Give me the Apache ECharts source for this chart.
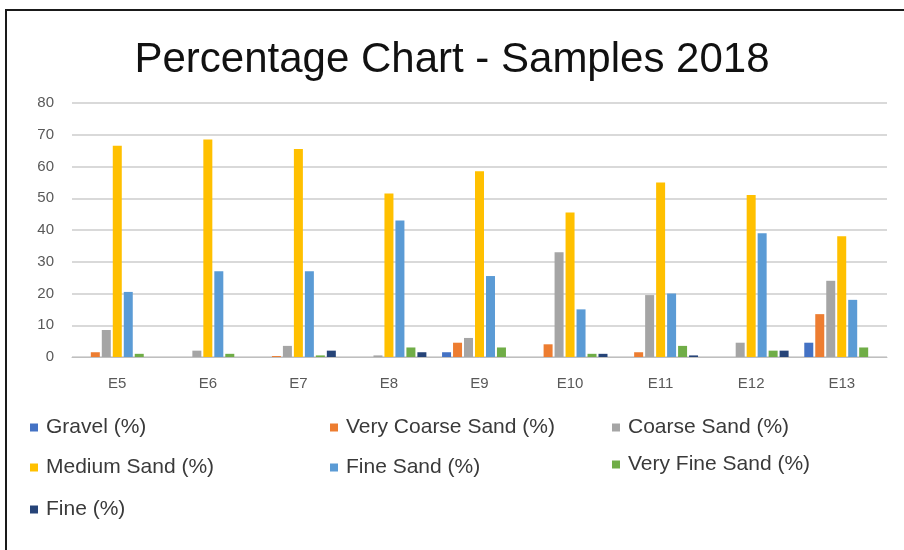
<!DOCTYPE html>
<html>
<head>
<meta charset="utf-8">
<script src="https://cdn.jsdelivr.net/npm/echarts@6/dist/echarts.min.js"></script>
<style>
html,body{margin:0;padding:0;background:#fff;}
#chart{width:904px;height:550px;}
</style>
</head>
<body>
<div id="chart"></div>
<script>
const categories = ['E5','E6','E7','E8','E9','E10','E11','E12','E13'];
const gravel          = [0, 0, 0, 0, 1.5, 0, 0, 0, 4.5];
const veryCoarseSand  = [1.5, 0, 0.3, 0, 4.5, 4, 1.5, 0, 13.5];
const coarseSand      = [8.5, 2, 3.5, 0.5, 6, 33, 19.5, 4.5, 24];
const mediumSand      = [66.5, 68.5, 65.5, 51.5, 58.5, 45.5, 55, 51, 38];
const fineSand        = [20.5, 27, 27, 43, 25.5, 15, 20, 39, 18];
const veryFineSand    = [1, 1, 0.5, 3, 3, 1, 3.5, 2, 3];
const fine            = [0, 0, 2, 1.5, 0, 1, 0.5, 2, 0];
const yTicks = [0, 10, 20, 30, 40, 50, 60, 70, 80];

const seriesNames = ['Gravel (%)','Very Coarse Sand (%)','Coarse Sand (%)','Medium Sand (%)','Fine Sand (%)','Very Fine Sand (%)','Fine (%)'];
const seriesData = [gravel, veryCoarseSand, coarseSand, mediumSand, fineSand, veryFineSand, fine];
const colors = ['#4472C4','#ED7D31','#A5A5A5','#FFC000','#5B9BD5','#70AD47','#264478'];

const legendPos = [
  {left: 30, top: 417}, {left: 330, top: 417}, {left: 612, top: 417},
  {left: 30, top: 457}, {left: 330, top: 457}, {left: 612, top: 454},
  {left: 30, top: 499}
];

const chart = echarts.init(document.getElementById('chart'), null, {renderer: 'canvas'});
const option = {
  backgroundColor: '#ffffff',
  animation: false,
  color: colors,
  title: {
    text: 'Percentage Chart - Samples 2018',
    left: 'center',
    top: 34,
    textStyle: {fontFamily: 'Liberation Sans, Arial, sans-serif', fontSize: 42, fontWeight: 'normal', color: '#111'}
  },
  legend: seriesNames.map((n, i) => ({
    data: [n],
    left: legendPos[i].left,
    top: legendPos[i].top,
    icon: 'rect',
    itemWidth: 8,
    itemHeight: 8,
    itemGap: 4,
    padding: 0,
    textStyle: {fontFamily: 'Liberation Sans, Arial, sans-serif', fontSize: 21, color: '#3a3a3a', padding: [0,0,0,3]}
  })),
  grid: {left: 72, right: 17, top: 103, bottom: 193, containLabel: false},
  xAxis: {
    type: 'category',
    data: categories,
    axisLine: {lineStyle: {color: '#bfbfbf', width: 1}},
    axisTick: {show: false},
    axisLabel: {color: '#595959', fontSize: 15, margin: 19, fontFamily: 'Liberation Sans, Arial, sans-serif'}
  },
  yAxis: {
    type: 'value',
    min: yTicks[0],
    max: yTicks[yTicks.length - 1],
    interval: 10,
    axisLine: {show: false},
    axisTick: {show: false},
    splitLine: {lineStyle: {color: '#d9d9d9', width: 2}},
    axisLabel: {color: '#595959', fontSize: 15, margin: 18, fontFamily: 'Liberation Sans, Arial, sans-serif'}
  },
  graphic: [{
    type: 'rect',
    shape: {x: 6, y: 10, width: 1200, height: 1200},
    style: {fill: 'none', stroke: '#1a1a1a', lineWidth: 2},
    silent: true, z: 100
  }],
  series: seriesNames.map((n, i) => ({
    name: n,
    type: 'bar',
    data: seriesData[i],
    barWidth: 9,
    barGap: '22%',
    itemStyle: {color: colors[i]}
  }))
};
chart.setOption(option);
</script>
</body>
</html>
